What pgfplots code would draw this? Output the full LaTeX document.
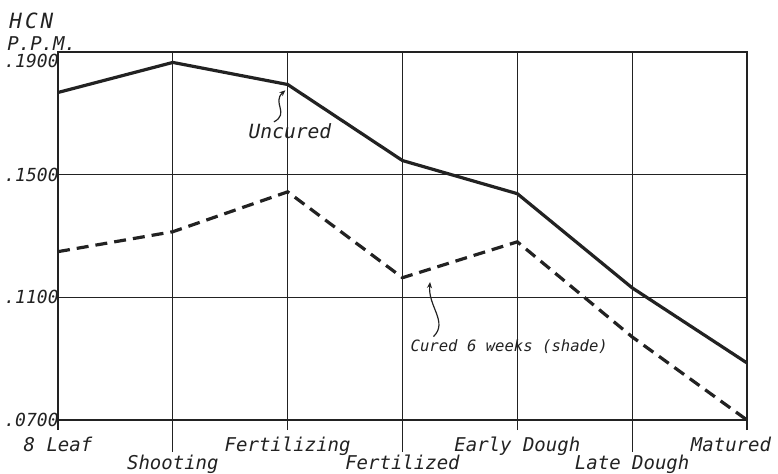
\documentclass[border=0pt]{standalone}
\usepackage{fontspec}
\setmainfont{DejaVu Sans}
\setmonofont{DejaVu Sans Mono}
\usepackage{pgfplots}
\pgfplotsset{compat=1.18}
\usetikzlibrary{arrows.meta}
\definecolor{ink}{HTML}{222222}

\pgfplotstableread{
x y
0 0.1768
1 0.1866
2 0.1794
3 0.1546
4 0.1438
5 0.1131
6 0.0886
}\uncured
\pgfplotstableread{
x y
0 0.1249
1 0.1314
2 0.1444
3 0.1164
4 0.1281
5 0.0971
6 0.0700
}\cured

\begin{document}
\begin{tikzpicture}[font=\ttfamily\itshape\fontsize{9.5}{11}\selectfont]
\path[use as bounding box] (-29pt,-26.5pt) rectangle (360pt,210pt);
\begin{axis}[
  scale only axis, width=344.5pt, height=184pt,
  xmin=0, xmax=6, ymin=0.07, ymax=0.19,
  xtick={0,2,4,6},
  xticklabels={8 Leaf, Fertilizing, Early Dough, \hspace*{-16pt}Matured},
  extra x ticks={1,3,5},
  extra x tick labels={Shooting, Fertilized, Late Dough},
  extra x tick style={major tick length=16pt, grid=major,
     xticklabel style={yshift=2.4pt}},
  xtick pos=bottom,
  tick align=outside,
  major tick length=5pt,
  xtick style={line width=0.6pt, ink},
  ytick style={draw=none},
  ytick={0.07,0.11,0.15},
  yticklabels={.0700,.1100,.1500},
  extra y ticks={0.19},
  extra y tick labels={.1900},
  extra y tick style={grid=major, yticklabel style={yshift=-4.5pt}},
  grid=major,
  major grid style={line width=0.6pt, ink},
  axis line style={line width=1.4pt, ink},
  xticklabel style={text=ink, inner sep=1pt, yshift=-2.5pt,
     font=\ttfamily\itshape\fontsize{9.5}{11}\selectfont},
  yticklabel style={text=ink, inner sep=0pt, xshift=5.5pt,
     font=\ttfamily\itshape\fontsize{9}{10}\selectfont},
  clip=false,
]
\addplot[line width=1.6pt, ink] table {\uncured};
\addplot[line width=1.6pt, ink, dash pattern=on 6pt off 3.5pt] table {\cured};

\node[anchor=north west, align=left, inner sep=0, text=ink,
  font=\ttfamily\itshape\fontsize{9.5}{9.5}\selectfont]
  at ([xshift=-25.5pt,yshift=19.5pt]rel axis cs:0,1)
  {\hspace*{1pt}{\fontsize{10.5}{10.5}\selectfont H\hspace{1.5pt}C\hspace{1.5pt}N}\\[1.5pt]P.P.M.};

\node[text=ink, font=\ttfamily\itshape\fontsize{9.8}{11}\selectfont]
  at (axis cs:2.02,0.1643) {Uncured};
\draw[ink, line width=0.6pt, -{Stealth[length=3pt,width=2.5pt]}]
  (axis cs:1.88,0.1672) .. controls (axis cs:2.02,0.1700) and (axis cs:1.86,0.1735)
  .. (axis cs:1.98,0.1775);

\node[text=ink, font=\ttfamily\itshape\fontsize{7.8}{9}\selectfont]
  at (axis cs:3.93,0.0938) {Cured 6 weeks (shade)};
\draw[ink, line width=0.6pt, -{Stealth[length=3pt,width=2.5pt]}]
  (axis cs:3.27,0.0972) .. controls (axis cs:3.40,0.1020) and (axis cs:3.22,0.1070)
  .. (axis cs:3.24,0.1150);
\end{axis}
\end{tikzpicture}
\end{document}
